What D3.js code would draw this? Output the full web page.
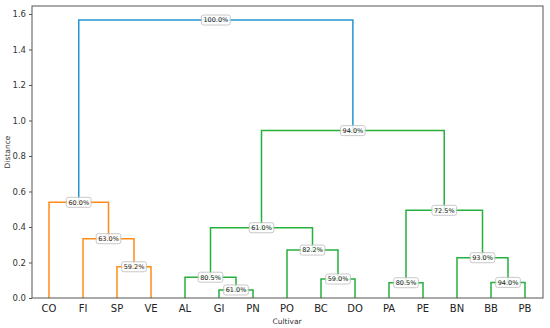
<!DOCTYPE html>
<html>
<head>
<meta charset="utf-8">
<script src="https://cdn.jsdelivr.net/npm/d3@7"></script>
<style>
  body { margin: 0; background: #fff; }
  svg text { font-family: "DejaVu Sans", sans-serif; }
</style>
</head>
<body>
<div class="visholder"></div>
<script>
// leaf labels, in dendrogram order
const leaves = ["CO", "FI", "SP", "VE", "AL", "GI", "PN", "PO", "BC", "DO", "PA", "PE", "BN", "BB", "PB"];
// merges: [child a, child b] (leaf index, or 15 + merge index)
const mergeChildren = [
    [2, 3], [1, 15], [0, 16],
    [5, 6], [4, 18], [8, 9], [7, 20], [19, 21],
    [10, 11], [13, 14], [12, 24], [23, 25],
    [22, 26], [17, 27]
];
const mergeHeights = [0.176, 0.334, 0.539, 0.045, 0.117, 0.107, 0.270, 0.396, 0.086, 0.088, 0.227, 0.494, 0.943, 1.566];
const mergeLabels = ["59.2%", "63.0%", "60.0%", "61.0%", "80.5%", "59.0%", "82.2%", "61.0%", "80.5%", "94.0%", "93.0%", "72.5%", "94.0%", "100.0%"];
const mergeGroup = ["o", "o", "o", "g", "g", "g", "g", "g", "g", "g", "g", "g", "g", "b"];
const yTicks = [0, 0.2, 0.4, 0.6, 0.8, 1.0, 1.2, 1.4, 1.6];

(function () {
    "use strict";
    // constants
    const width = 550, height = 328;
    const mLeft = 32, mRight = 542, mTop = 6, mBottom = 298;
    const colors = { b: "#2596d2", o: "#ff8a18", g: "#26b03c" };

    let svg = d3.select(".visholder").append("svg")
        .attr("width", width)
        .attr("height", height);

    let x = d3.scaleLinear().domain([0, leaves.length * 10]).range([mLeft, mRight]);
    let y = d3.scaleLinear().domain([0, 1.645]).range([mBottom, mTop]);

    // position and height of each node
    let nodeX = leaves.map((d, i) => i * 10 + 5);
    let nodeH = leaves.map(() => 0);
    mergeChildren.forEach((c, i) => {
        nodeX.push((nodeX[c[0]] + nodeX[c[1]]) / 2);
        nodeH.push(mergeHeights[i]);
    });

    // links
    let lines = svg.append("g");
    mergeChildren.forEach((c, i) => {
        let h = mergeHeights[i];
        let pts = [[nodeX[c[0]], nodeH[c[0]]], [nodeX[c[0]], h], [nodeX[c[1]], h], [nodeX[c[1]], nodeH[c[1]]]];
        lines.append("path")
            .attr("d", d3.line().x(p => x(p[0])).y(p => y(p[1]))(pts))
            .attr("fill", "none")
            .attr("stroke", colors[mergeGroup[i]])
            .attr("stroke-width", 1.5);
    });

    // frame
    svg.append("rect")
        .attr("x", mLeft).attr("y", mTop)
        .attr("width", mRight - mLeft + 1).attr("height", mBottom - mTop)
        .attr("fill", "none").attr("stroke", "#555").attr("stroke-width", 1);

    // y axis
    let yAxis = d3.axisLeft(y).tickValues(yTicks).tickFormat(d3.format(".1f")).tickSize(3).tickPadding(3);
    let ya = svg.append("g").attr("transform", `translate(${mLeft},0)`).call(yAxis);
    ya.select(".domain").remove();
    ya.selectAll("line").attr("stroke", "#555");
    ya.selectAll("text").attr("font-size", 8.5).attr("fill", "#333").style("font-family", "DejaVu Sans, sans-serif");

    // leaf labels
    svg.append("g").selectAll("text").data(leaves).enter().append("text")
        .text(d => d)
        .attr("x", (d, i) => x(nodeX[i]))
        .attr("y", 312)
        .attr("text-anchor", "middle")
        .attr("font-size", 10)
        .attr("fill", "#222");

    // axis titles
    svg.append("text").text("Cultivar")
        .attr("x", (mLeft + mRight) / 2).attr("y", 324)
        .attr("text-anchor", "middle").attr("font-size", 7.5).attr("fill", "#333");
    svg.append("text").text("Distance")
        .attr("transform", `translate(10,${(mTop + mBottom) / 2}) rotate(-90)`)
        .attr("text-anchor", "middle").attr("font-size", 7.5).attr("fill", "#333");

    // merge labels
    let labels = svg.append("g");
    mergeChildren.forEach((c, i) => {
        let cx = x(nodeX[leaves.length + i]), cy = y(mergeHeights[i]);
        let g = labels.append("g").attr("transform", `translate(${cx},${cy})`);
        let t = g.append("text").text(mergeLabels[i])
            .attr("text-anchor", "middle")
            .attr("dy", "0.35em")
            .attr("font-size", 6.5)
            .attr("fill", "#222");
        let w = t.node().getComputedTextLength() + 4;
        g.insert("rect", "text")
            .attr("x", -w / 2).attr("y", -5)
            .attr("width", w).attr("height", 10)
            .attr("rx", 2)
            .attr("fill", "#fff").attr("fill-opacity", 0.85)
            .attr("stroke", "#bbb").attr("stroke-width", 0.8);
    });
})();
</script>
</body>
</html>
